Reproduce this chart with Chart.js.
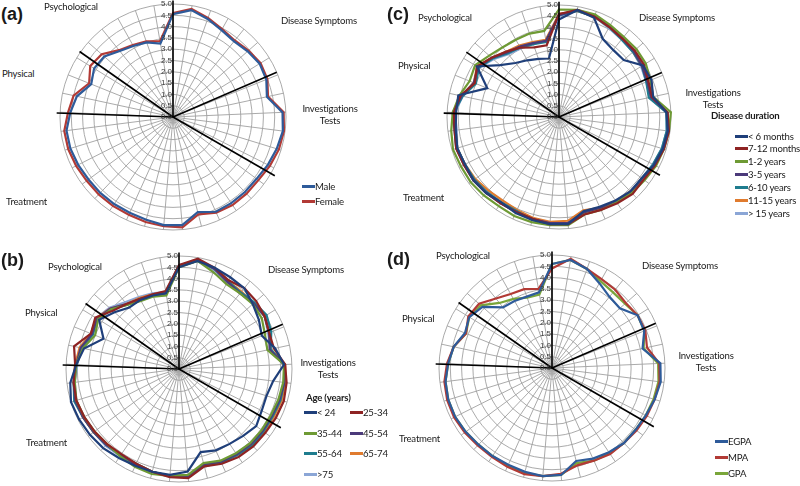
<!DOCTYPE html>
<html>
<head>
<meta charset="utf-8">
<script src="https://cdn.jsdelivr.net/npm/chart.js@4/dist/chart.umd.min.js"></script>
<style>
  body { margin: 0; background: #fff; }
  #fig { position: relative; width: 800px; height: 486px; overflow: hidden; background: #fff;
         font-family: Lato, "Liberation Sans", sans-serif; color: #1a1a1a; }
  #fig canvas { position: absolute; }
  .t { position: absolute; font-size: 9.6px; letter-spacing: -0.2px; line-height: 10px; white-space: nowrap; color: #1a1a1a; }
  .c { text-align: center; }
  .b { font-weight: bold; }
  .tag { position: absolute; font: bold 18px "Liberation Sans", sans-serif; line-height: 18px; }
  .leg { position: absolute; font-size: 9.6px; letter-spacing: -0.2px; line-height: 10px; white-space: nowrap; }
  .leg i { display: inline-block; width: 13px; height: 2.5px; vertical-align: middle; margin-top: -2px; }
</style>
</head>
<body>
<div id="fig">
  <canvas id="ca" width="260" height="260" style="left:43px;top:-13px"></canvas>
  <canvas id="cb" width="260" height="260" style="left:49px;top:239px"></canvas>
  <canvas id="cc" width="260" height="260" style="left:429px;top:-13px"></canvas>
  <canvas id="cd" width="260" height="260" style="left:422px;top:238px"></canvas>

  <div class="tag" style="left:1px;top:5px">(a)</div>
  <div class="t" style="left:44px;top:2px">Psychological</div>
  <div class="t" style="left:281px;top:16px">Disease Symptoms</div>
  <div class="t" style="left:2px;top:69px">Physical</div>
  <div class="t c" style="left:300px;top:104px;width:60px">Investigations<br><span style="line-height:13px">Tests</span></div>
  <div class="t" style="left:6px;top:197px">Treatment</div>

  <div class="tag" style="left:1px;top:251px">(b)</div>
  <div class="t" style="left:48px;top:262px">Psychological</div>
  <div class="t" style="left:268px;top:265px">Disease Symptoms</div>
  <div class="t" style="left:25px;top:308px">Physical</div>
  <div class="t c" style="left:298px;top:358px;width:60px">Investigations<br><span style="line-height:13px">Tests</span></div>
  <div class="t" style="left:26px;top:438px">Treatment</div>
  <div class="t b" style="left:306px;top:393px">Age (years)</div>

  <div class="tag" style="left:387px;top:5px">(c)</div>
  <div class="t" style="left:418px;top:13px">Psychological</div>
  <div class="t" style="left:639px;top:13px">Disease Symptoms</div>
  <div class="t" style="left:398px;top:61px">Physical</div>
  <div class="t c" style="left:683px;top:88px;width:60px">Investigations<br><span style="line-height:13px">Tests</span></div>
  <div class="t" style="left:403px;top:193px">Treatment</div>
  <div class="t b" style="left:711px;top:111px">Disease duration</div>

  <div class="tag" style="left:387px;top:250px">(d)</div>
  <div class="t" style="left:436px;top:251px">Psychological</div>
  <div class="t" style="left:642px;top:261px">Disease Symptoms</div>
  <div class="t" style="left:402px;top:314px">Physical</div>
  <div class="t c" style="left:676px;top:351px;width:60px">Investigations<br><span style="line-height:13px">Tests</span></div>
  <div class="t" style="left:399px;top:434px">Treatment</div>
</div>

<script>
// 37 questionnaire items, clockwise from the top
const items = ['1','2','3','4','5','6','7','8','9','10','11','12','13','14','15','16','17','18','19',
  '20','21','22','23','24','25','26','27','28','29','30','31','32','33','34','35','36','37'];

// domain dividers (item position) and their length (scale units)
const dividerIdx = [0, 6.85, 12.33, 27.95, 31.35];
const dividerLen = [5.15, 5.0, 5.2, 5.15, 5.05];

// (a) gender
const genderNames = ['Male', 'Female'];
const aMale = [4.55,4.8,4.6,4.4,4.3,4.4,4.5,4.45,4.25,
  4.85,4.9,4.8,4.7,4.6,4.6,4.6,4.6,4.35,
  4.8,4.8,4.7,4.65,4.65,4.65,4.65,4.7,4.75,
  4.75,4.55,4.35,3.9,4.1,4.05,3.75,3.6,3.5,3.3];
const aFemale = [4.6,4.85,4.65,4.45,4.35,4.45,4.55,4.5,4.3,
  4.9,4.95,4.9,4.8,4.7,4.7,4.7,4.65,4.45,
  4.9,4.85,4.8,4.75,4.75,4.75,4.75,4.8,4.85,
  4.85,4.65,4.5,4.0,4.3,4.2,3.8,3.65,3.55,3.4];

// (b) age
const ageNames = ['< 24', '25-34', '35-44', '45-54', '55-64', '65-74', '>75'];
const b24 = [4.5,4.85,4.75,4.65,4.6,4.35,4.15,3.95,4.35,
  4.65,4.2,4.05,4.1,4.25,4.1,4.0,3.95,3.8,
  4.55,4.7,4.7,4.7,4.75,4.85,4.9,4.95,5.0,
  4.85,4.55,4.3,3.6,4.15,3.8,3.5,3.5,3.45,3.4];
const b25 = [4.6,4.95,4.75,4.5,4.6,4.55,4.45,4.3,4.3,
  4.7,4.8,4.85,4.8,4.75,4.75,4.7,4.6,4.45,
  4.85,4.8,4.7,4.6,4.55,4.6,4.65,4.7,4.75,
  4.7,4.6,4.75,4.2,4.35,3.9,3.7,3.55,3.5,3.5];
const b35 = [4.5,4.85,4.55,4.3,4.3,4.35,4.3,4.1,4.0,
  4.65,4.65,4.6,4.55,4.55,4.55,4.5,4.45,4.3,
  4.7,4.75,4.8,4.75,4.65,4.6,4.65,4.7,4.75,
  4.65,4.55,4.35,4.0,4.2,4.0,3.65,3.45,3.4,3.3];
const b45 = [4.55,4.9,4.7,4.4,4.3,4.4,4.45,4.3,4.1,
  4.65,4.7,4.65,4.6,4.6,4.6,4.55,4.5,4.35,
  4.75,4.75,4.7,4.65,4.6,4.65,4.7,4.75,4.8,
  4.7,4.55,4.45,4.15,4.25,4.05,3.7,3.55,3.45,3.4];
const b55 = [4.55,4.85,4.7,4.45,4.35,4.45,4.55,4.4,4.15,
  4.65,4.7,4.7,4.65,4.65,4.7,4.6,4.55,4.4,
  4.75,4.75,4.7,4.6,4.6,4.65,4.7,4.75,4.85,
  4.7,4.55,4.4,4.1,4.25,4.0,3.65,3.55,3.45,3.4];
const b65 = [4.55,4.9,4.7,4.45,4.4,4.4,4.45,4.3,4.15,
  4.7,4.75,4.75,4.7,4.7,4.65,4.6,4.55,4.4,
  4.8,4.75,4.7,4.6,4.6,4.6,4.7,4.75,4.8,
  4.7,4.6,4.5,4.2,4.3,4.05,3.7,3.6,3.5,3.45];
const b75 = [4.6,4.85,4.65,4.4,4.35,4.35,4.45,4.25,4.15,
  4.65,4.7,4.65,4.6,4.6,4.6,4.55,4.5,4.4,
  4.75,4.75,4.75,4.7,4.65,4.7,4.7,4.75,4.75,
  4.65,4.5,4.45,4.2,4.3,4.1,3.8,3.65,3.55,3.45];

// (c) disease duration
const durNames = ['< 6 months', '7-12 months', '1-2 years', '3-5 years', '6-10 years', '11-15 years', '> 15 years'];
const c6m = [4.35,4.85,4.7,4.0,3.85,3.85,4.4,4.45,4.3,
  4.8,4.9,4.85,4.75,4.6,4.6,4.5,4.4,4.35,
  4.8,4.8,4.75,4.7,4.6,4.7,4.75,4.7,4.75,
  4.65,4.6,4.6,3.45,4.3,3.5,3.1,2.9,2.75,2.65];
const c12m = [4.6,4.85,4.75,4.6,4.5,4.5,4.45,4.3,4.25,
  4.85,4.95,4.9,4.8,4.7,4.75,4.65,4.55,4.5,
  4.8,4.8,4.7,4.65,4.65,4.7,4.75,4.75,4.8,
  4.7,4.7,4.5,4.05,4.3,4.0,3.75,3.55,3.3,3.25];
const c2y = [4.8,4.85,4.85,4.7,4.6,4.6,4.55,4.4,4.3,
  5.0,4.95,4.9,4.85,4.75,4.7,4.6,4.55,4.5,
  4.85,4.85,4.85,4.85,4.8,4.85,4.9,4.9,4.95,
  4.85,4.75,4.55,4.3,4.4,4.15,4.0,3.95,3.95,3.9];
const c5y = [4.55,4.85,4.8,4.65,4.5,4.45,4.35,4.25,4.2,
  4.85,4.9,4.85,4.75,4.6,4.65,4.6,4.45,4.4,
  4.75,4.75,4.7,4.65,4.65,4.7,4.75,4.75,4.8,
  4.7,4.75,4.45,4.1,4.25,4.0,3.7,3.6,3.5,3.45];
const c10y = [4.55,4.8,4.75,4.6,4.45,4.4,4.35,4.2,4.1,
  4.8,4.85,4.8,4.7,4.6,4.65,4.55,4.45,4.4,
  4.8,4.8,4.75,4.6,4.6,4.65,4.7,4.7,4.75,
  4.65,4.7,4.4,4.0,4.2,3.95,3.65,3.55,3.45,3.4];
const c15y = [4.6,4.8,4.75,4.6,4.5,4.4,4.35,4.25,4.2,
  4.85,4.9,4.85,4.75,4.7,4.6,4.55,4.45,4.3,
  4.65,4.7,4.65,4.55,4.5,4.55,4.65,4.7,4.75,
  4.65,4.7,4.45,4.1,4.3,4.0,3.75,3.65,3.55,3.5];
const cOver15 = [4.5,4.8,4.75,4.55,4.45,4.4,4.3,4.2,4.15,
  4.8,4.85,4.8,4.7,4.6,4.6,4.55,4.45,4.35,
  4.75,4.75,4.7,4.6,4.6,4.65,4.7,4.7,4.75,
  4.6,4.65,4.4,4.05,4.2,3.9,3.6,3.5,3.45,3.5];

// (d) diagnosis
const dxNames = ['EGPA', 'MPA', 'GPA'];
const dEGPA = [4.6,4.85,4.65,4.3,4.05,4.0,4.45,4.4,4.1,
  4.8,4.85,4.75,4.65,4.6,4.6,4.5,4.4,4.25,
  4.75,4.8,4.75,4.7,4.7,4.7,4.75,4.8,4.8,
  4.75,4.6,4.45,4.15,4.3,4.1,3.45,3.4,3.35,3.4];
const dMPA = [4.4,4.9,4.65,4.5,4.45,4.35,4.45,4.45,4.3,
  4.75,4.8,4.75,4.7,4.65,4.6,4.6,4.5,4.45,
  4.7,4.8,4.85,4.8,4.75,4.75,4.8,4.85,4.85,
  4.8,4.65,4.45,4.1,4.35,4.3,3.95,3.75,3.7,3.55];
const dGPA = [4.6,4.85,4.65,4.4,4.3,4.3,4.45,4.4,4.15,
  4.7,4.75,4.7,4.65,4.6,4.6,4.55,4.5,4.35,
  4.75,4.8,4.8,4.75,4.7,4.7,4.75,4.8,4.8,
  4.75,4.6,4.45,4.1,4.3,4.2,3.7,3.5,3.3,3.3];

const blue = '#2E5B9A', red = '#B23A35';
const sevenColors = ['#1F3F7A', '#8E2323', '#6E9A34', '#4B3A7A', '#1E7C8E', '#E07B2E', '#8BA6D6'];
const dxColors = [blue, red, '#7AA63A'];

// dividers and tick labels drawn through the radial scale
const overlay = {
  id: 'overlay',
  afterDatasetsDraw(chart) {
    const r = chart.scales.r, ctx = chart.ctx;
    ctx.save();
    ctx.strokeStyle = '#000';
    ctx.lineWidth = 1.6;
    dividerIdx.forEach((idx, k) => {
      const p = r.getPointPosition(idx, r.getDistanceFromCenterForValue(dividerLen[k]));
      ctx.beginPath();
      ctx.moveTo(r.xCenter, r.yCenter);
      ctx.lineTo(p.x, p.y);
      ctx.stroke();
    });
    ctx.fillStyle = '#3a3a3a';
    ctx.font = '8px "Liberation Sans"';
    ctx.textAlign = 'right';
    ctx.textBaseline = 'middle';
    r.ticks.forEach(t => {
      ctx.fillText(t.label, r.xCenter - 1, r.yCenter - r.getDistanceFromCenterForValue(t.value));
    });
    ctx.restore();
  }
};

function radarPanel(id, radius, names, series, colors) {
  const pad = 130 - radius;
  return new Chart(document.getElementById(id), {
    type: 'radar',
    data: {
      labels: items,
      datasets: series.map((s, i) => ({
        label: names[i],
        data: s,
        borderColor: colors[i],
        borderWidth: 2.2,
        fill: false,
        pointRadius: 0,
      })),
    },
    options: {
      responsive: false,
      animation: false,
      devicePixelRatio: 1,
      layout: { padding: pad },
      elements: { line: { tension: 0 } },
      scales: {
        r: {
          min: 0,
          max: 5,
          ticks: { stepSize: 0.5, display: false, callback: v => v.toFixed(1) },
          grid: { circular: true, color: '#a0a0a0', lineWidth: 0.9 },
          angleLines: { color: '#a0a0a0', lineWidth: 0.9 },
          pointLabels: { display: false },
        },
      },
      plugins: { legend: { display: false }, tooltip: { enabled: false } },
    },
    plugins: [overlay],
  });
}

radarPanel('ca', 113, genderNames, [aMale, aFemale], [blue, red]);
radarPanel('cb', 113, ageNames, [b24, b25, b35, b45, b55, b65, b75], sevenColors);
radarPanel('cc', 112, durNames, [c6m, c12m, c2y, c5y, c10y, c15y, cOver15], sevenColors);
radarPanel('cd', 113, dxNames, [dEGPA, dMPA, dGPA], dxColors);

// legends
const fig = document.getElementById('fig');
function legendRow(x, y, color, text) {
  const el = document.createElement('div');
  el.className = 'leg';
  el.style.left = x + 'px';
  el.style.top = (y - 5) + 'px';
  el.innerHTML = '<i style="background:' + color + '"></i>' + text;
  fig.appendChild(el);
}
legendRow(302, 187, blue, genderNames[0]);
legendRow(302, 202, red, genderNames[1]);

const ageRows = [413, 413, 434, 434, 454, 454, 475];
const ageCols = [304, 350, 304, 350, 304, 350, 304];
ageNames.forEach((n, i) => legendRow(ageCols[i], ageRows[i], sevenColors[i], n));

const durRows = [137, 149, 162, 175, 188, 201, 214];
durNames.forEach((n, i) => legendRow(735, durRows[i], sevenColors[i], n));

const dxRows = [442, 458, 474];
dxNames.forEach((n, i) => legendRow(715, dxRows[i], dxColors[i], n));
</script>
</body>
</html>
